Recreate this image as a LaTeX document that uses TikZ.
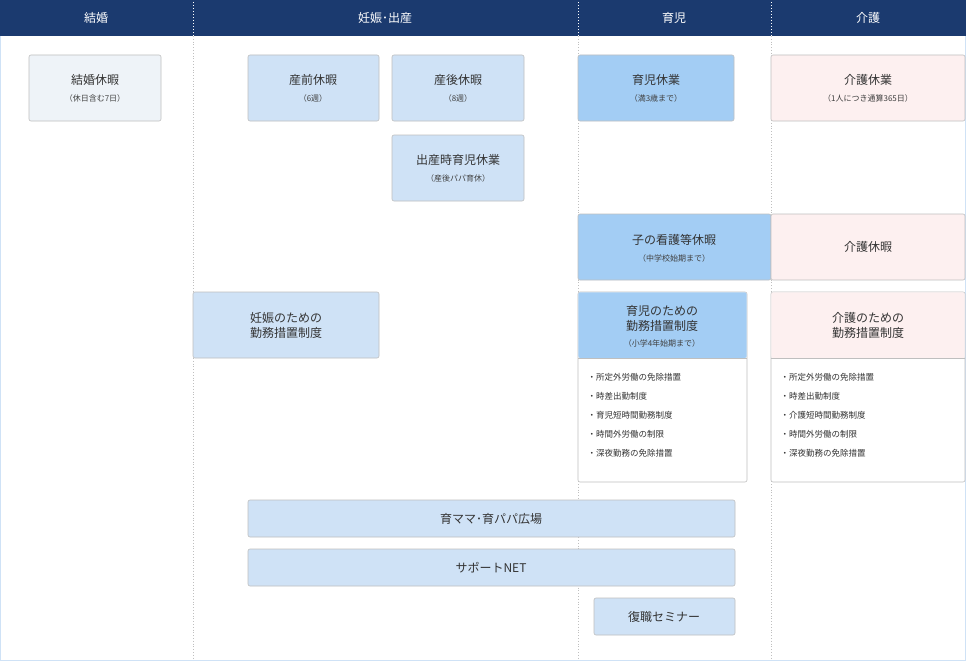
\documentclass[tikz,border=0pt]{standalone}
\usepackage{fontspec}
\setmainfont{Noto Sans CJK JP}
\begin{document}
\begin{tikzpicture}[x=1pt,y=-1pt,
  bx/.style={draw=black!25,rounded corners=2pt,line width=0.6pt},
  lb/.style={fill=lbfill},dk/.style={fill=dkfill},pk/.style={fill=pkfill},gr/.style={fill=grfill},
  t/.style={font=\fontsize{12}{15}\selectfont,align=center,text=black!80},
  s/.style={font=\fontsize{8}{10}\selectfont,text=black!75},
  hd/.style={font=\fontsize{12}{14}\selectfont,text=white},
  li/.style={font=\fontsize{8.5}{19}\selectfont,align=left,text=black!80,anchor=north west}]
\definecolor{lbfill}{HTML}{CFE2F6}\definecolor{dkfill}{HTML}{A3CDF4}
\definecolor{pkfill}{HTML}{FDF0F0}\definecolor{grfill}{HTML}{EEF3F8}
\definecolor{navy}{HTML}{1B3A6F}
\useasboundingbox (0,0) rectangle (966,661);
\fill[white] (0,0) rectangle (966,661);
\fill[navy] (0,0) rectangle (966,36);
\draw[lbfill,line width=1pt] (0.5,36) -- (0.5,660.5) -- (965.5,660.5) -- (965.5,36);
\foreach \x in {193,578,771}{
  \draw[white,dotted,line width=1pt] (\x,2) -- (\x,36);
  \draw[black!25,dotted,line width=0.8pt] (\x,36) -- (\x,660);}
\node[hd] (h1) at (96,18) {結婚};
\node[hd] (h2) at (385,18) {妊娠･出産};
\node[hd] (h3) at (674,18) {育児};
\node[hd] (h4) at (868,18) {介護};
% boxes
\draw[bx,gr] (29,55) rectangle (161,121);
\node[t] (a1) at (95,80) {結婚休暇}; \node[s] at (95,98) {（休日含む7日）};
\draw[bx,lb] (248,55) rectangle (379,121);
\node[t] (b1) at (313,80) {産前休暇}; \node[s] at (313,98) {（6週）};
\draw[bx,lb] (392,55) rectangle (524,121);
\node[t] (b2) at (458,80) {産後休暇}; \node[s] at (458,98) {（8週）};
\draw[bx,lb] (392,135) rectangle (524,201);
\node[t] (b3) at (458,160) {出産時育児休業}; \node[s] at (458,178) {（産後パパ育休）};
\draw[bx,dk] (578,55) rectangle (734,121);
\node[t] (c1) at (656,80) {育児休業}; \node[s] at (656,98) {（満3歳まで）};
\draw[bx,pk] (771,55) rectangle (965,121);
\node[t] (d1) at (868,80) {介護休業}; \node[s] at (868,98) {（1人につき通算365日）};
\draw[bx,dk] (578,214) rectangle (771,280);
\node[t] (c2) at (674,240) {子の看護等休暇}; \node[s] at (674,258) {（中学校始期まで）};
\draw[bx,pk] (771,214) rectangle (965,280);
\node[t] (d2) at (868,247) {介護休暇};
\draw[bx,lb] (193,292) rectangle (379,358);
\node[t] (b4) at (286,325) {妊娠のための\\勤務措置制度};
% 育児のための
\draw[bx,fill=white] (578,292) rectangle (747,482);
\fill[dkfill,rounded corners=2pt] (578.3,292.3) -- (746.7,292.3) -- (746.7,358) -- (578.3,358) -- cycle;
\draw[black!25,line width=0.6pt] (578,358) -- (747,358);
\node[t] (c3) at (662,318) {育児のための\\勤務措置制度}; \node[s] at (662,343) {（小学4年始期まで）};
\node[li] (c4) at (584,370) {・所定外労働の免除措置\\・時差出勤制度\\・育児短時間勤務制度\\・時間外労働の制限\\・深夜勤務の免除措置};
\draw[bx,fill=white] (771,292) rectangle (965,482);
\fill[pkfill,rounded corners=2pt] (771.3,292.3) -- (964.7,292.3) -- (964.7,358) -- (771.3,358) -- cycle;
\draw[black!25,line width=0.6pt] (771,358) -- (965,358);
\node[t] (d3) at (868,325) {介護のための\\勤務措置制度};
\node[li] (d4) at (777,370) {・所定外労働の免除措置\\・時差出勤制度\\・介護短時間勤務制度\\・時間外労働の制限\\・深夜勤務の免除措置};
\draw[bx,lb] (248,500) rectangle (735,537);
\node[t] (e1) at (491,519) {育ママ･育パパ広場};
\draw[bx,lb] (248,549) rectangle (735,586);
\node[t] (e2) at (491,568) {サポートNET};
\draw[bx,lb] (594,598) rectangle (735,635);
\node[t] (e3) at (664,617) {復職セミナー};
\end{tikzpicture}
\end{document}
